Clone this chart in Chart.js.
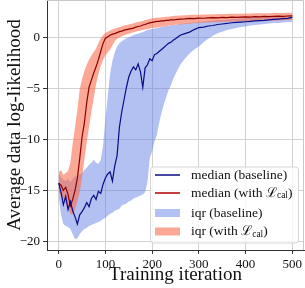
<!DOCTYPE html>
<html>
<head>
<meta charset="utf-8">
<script src="https://cdn.jsdelivr.net/npm/chart.js@4.4.0/dist/chart.umd.min.js"></script>
<style>
    body { margin: 0; background: #fff; }
    #wrap { width: 305px; height: 288px; }
</style>
</head>
<body>
<div id="wrap"><canvas id="chart" width="305" height="288"></canvas></div>
<script>
// training iterations (x)
var iterations = [
    0, 5, 10, 15, 20, 25, 30, 35, 40, 45, 50, 55, 60, 65, 70, 75, 80, 85, 90, 95, 100, 105, 110, 115, 120,
    125, 130, 135, 140, 145, 150, 155, 160, 165, 170, 175, 180, 185, 190, 195, 200, 205, 210, 215, 220, 225, 230, 235, 240, 245, 250,
    260, 270, 280, 290, 300, 310, 320, 330, 340, 350, 360, 370, 380, 390, 400, 410, 420, 430, 440, 450, 460, 470, 480, 490, 500
];

// baseline
var baselineMedian = [
    -14.3, -15.2, -16.4, -15.6, -16.9, -16.1, -17.0, -17.6, -18.3, -17.4, -17.1, -16.7, -16.2, -16.6, -15.8, -15.5, -15.9, -15.1, -15.3, -14.4, -13.8, -13.4, -13.2, -14.1, -12.6,
    -11.6, -8.8, -7.3, -6.1, -4.9, -3.9, -3.3, -2.9, -3.2, -2.6, -3.4, -4.9, -3.0, -2.7, -2.1, -2.3, -1.7, -1.6, -1.4, -1.2, -1.0, -0.8, -0.6, -0.5, -0.3, -0.15,
    0.2, 0.35, 0.5, 0.75, 0.95, 1.0, 1.1, 1.15, 1.25, 1.3, 1.35, 1.42, 1.45, 1.48, 1.52, 1.55, 1.6, 1.62, 1.65, 1.7, 1.75, 1.78, 1.82, 1.85, 1.95
];
var baselineLow = [
    -15.5, -17.4, -18.3, -18.5, -18.6, -18.8, -19.3, -19.8, -19.7, -19.3, -19.0, -18.8, -18.7, -18.5, -18.4, -18.3, -18.2, -18.1, -18.0, -17.8, -17.7, -17.5, -17.3, -17.2, -17.0,
    -16.9, -16.8, -16.5, -16.4, -16.3, -16.1, -16.0, -15.8, -15.7, -15.6, -15.5, -15.4, -15.2, -14.2, -11.8, -11.2, -10.2, -9.6, -8.4, -7.4, -6.6, -5.9, -5.2, -4.7, -4.1, -3.6,
    -2.7, -2.1, -1.6, -1.2, -0.9, -0.5, -0.15, 0.15, 0.4, 0.55, 0.7, 0.8, 0.9, 1.0, 1.05, 1.15, 1.2, 1.25, 1.3, 1.35, 1.4, 1.4, 1.45, 1.5, 1.5
];
var baselineHigh = [
    -13.4, -13.7, -14.0, -14.1, -13.9, -14.2, -13.9, -13.6, -13.7, -13.4, -13.3, -13.0, -12.8, -12.5, -12.3, -12.0, -12.3, -12.4, -12.0, -10.6, -8.0, -5.8, -3.6, -2.3, -1.5,
    -0.9, -0.6, -0.4, -0.25, -0.1, 0.0, 0.1, 0.2, 0.3, 0.35, 0.45, 0.5, 0.6, 0.7, 0.75, 0.8, 0.85, 0.9, 0.95, 1.0, 1.05, 1.1, 1.1, 1.15, 1.2, 1.2,
    1.3, 1.35, 1.4, 1.45, 1.5, 1.55, 1.6, 1.65, 1.7, 1.7, 1.75, 1.8, 1.8, 1.85, 1.85, 1.9, 1.9, 1.95, 1.95, 2.0, 2.0, 2.05, 2.05, 2.1, 2.1
];

// with L_cal
var calMedian = [
    -14.3, -14.5, -15.0, -14.7, -15.4, -16.5, -15.9, -15.0, -13.8, -11.9, -9.8, -8.4, -6.4, -4.9, -4.2, -3.5, -2.9, -2.2, -1.4, -0.6, -0.1, 0.05, 0.2, 0.3, 0.35,
    0.45, 0.55, 0.6, 0.7, 0.75, 0.8, 0.85, 0.9, 1.0, 1.05, 1.1, 1.2, 1.25, 1.35, 1.4, 1.45, 1.5, 1.55, 1.55, 1.6, 1.6, 1.65, 1.65, 1.7, 1.7, 1.72,
    1.78, 1.8, 1.84, 1.82, 1.88, 1.86, 1.9, 1.92, 1.9, 1.95, 1.93, 1.97, 1.95, 1.98, 2.0, 1.98, 2.02, 2.0, 2.04, 2.02, 2.05, 2.06, 2.05, 2.08, 2.09
];
var calLow = [
    -15.2, -15.5, -15.9, -16.3, -16.8, -17.3, -17.4, -16.9, -16.1, -15.2, -13.8, -12.0, -10.3, -8.8, -7.3, -6.0, -4.6, -3.6, -2.8, -2.2, -1.8, -1.5, -1.2, -0.8, -0.4,
    -0.15, 0.0, 0.1, 0.2, 0.28, 0.35, 0.42, 0.5, 0.55, 0.6, 0.65, 0.7, 0.75, 0.8, 0.85, 0.9, 0.93, 0.96, 1.0, 1.03, 1.06, 1.1, 1.13, 1.16, 1.2, 1.22,
    1.26, 1.3, 1.33, 1.36, 1.4, 1.42, 1.44, 1.46, 1.48, 1.5, 1.52, 1.53, 1.55, 1.56, 1.57, 1.58, 1.6, 1.61, 1.62, 1.63, 1.64, 1.65, 1.66, 1.68, 1.7
];
var calHigh = [
    -13.2, -13.0, -13.5, -13.3, -13.1, -12.3, -10.4, -8.8, -7.1, -5.1, -4.1, -3.3, -2.7, -2.2, -1.8, -1.45, -1.1, -0.6, -0.1, 0.2, 0.45, 0.55, 0.65, 0.75, 0.85,
    0.9, 1.0, 1.05, 1.15, 1.2, 1.25, 1.3, 1.37, 1.45, 1.5, 1.55, 1.6, 1.68, 1.75, 1.8, 1.85, 1.88, 1.9, 1.92, 1.95, 1.97, 2.0, 2.02, 2.05, 2.07, 2.1,
    2.12, 2.15, 2.17, 2.2, 2.2, 2.22, 2.24, 2.25, 2.26, 2.27, 2.28, 2.3, 2.3, 2.31, 2.32, 2.33, 2.34, 2.35, 2.35, 2.36, 2.37, 2.38, 2.38, 2.39, 2.4
];

var xTicks = [0, 100, 200, 300, 400, 500];
var yTicks = [-20, -15, -10, -5, 0];
var legendLabels = ["median (baseline)", "median (with \u2112_cal)", "iqr (baseline)", "iqr (with \u2112_cal)"];

var serif = "'Liberation Serif', 'DejaVu Serif', serif";
var blueLine = "#0b0b85";
var redLine = "#8b0000";
var blueBand = "rgba(95, 125, 225, 0.48)";
var redBand = "rgba(250, 110, 80, 0.6)";

function toPoints(values) {
    return values.map(function (v, i) {
        return { x: iterations[i], y: v };
    });
}

function minusSign(v) {
    return String(v).replace("-", "\u2212");
}

// text with "_sub" parts drawn as subscripts
function drawRichText(ctx, text, x, y, size) {
    var parts = text.split(/_(\w+)/);
    for (var i = 0; i < parts.length; i++) {
        var sub = i % 2 == 1;
        ctx.font = (sub ? size * 0.7 : size) + "px " + serif;
        ctx.fillText(parts[i], x, sub ? y + 3 : y);
        x += ctx.measureText(parts[i]).width;
    }
}

var frame = {
    id: "frame",
    beforeDatasetsDraw: function (chart) {
        var a = chart.chartArea;
        var ctx = chart.ctx;
        ctx.save();
        ctx.strokeStyle = "#c8c8c8";
        ctx.lineWidth = 1;
        ctx.beginPath();
        ctx.moveTo(a.left, a.top + 0.5);
        ctx.lineTo(a.right - 0.5, a.top + 0.5);
        ctx.lineTo(a.right - 0.5, a.bottom);
        ctx.stroke();
        ctx.restore();
    }
};

var legendBox = {
    id: "legendBox",
    afterDraw: function (chart) {
        var a = chart.chartArea;
        var ctx = chart.ctx;
        var left = a.right - 154;
        var top = a.bottom - 83.5;
        ctx.save();
        ctx.beginPath();
        ctx.roundRect(left + 0.5, top + 0.5, 148, 76, 3);
        ctx.fillStyle = "rgba(255,255,255,0.8)";
        ctx.fill();
        ctx.strokeStyle = "#d6d6d6";
        ctx.stroke();

        var rows = [top + 8.5, top + 26.5, top + 46.5, top + 65];
        ctx.lineWidth = 1.5;
        ctx.strokeStyle = blueLine;
        ctx.beginPath(); ctx.moveTo(left + 5, rows[0]); ctx.lineTo(left + 30, rows[0]); ctx.stroke();
        ctx.strokeStyle = "#b00000";
        ctx.beginPath(); ctx.moveTo(left + 5, rows[1]); ctx.lineTo(left + 30, rows[1]); ctx.stroke();
        ctx.fillStyle = blueBand;
        ctx.fillRect(left + 5, rows[2] - 4, 25, 8);
        ctx.fillStyle = redBand;
        ctx.fillRect(left + 5, rows[3] - 4, 25, 8);

        ctx.fillStyle = "#111";
        ctx.textBaseline = "middle";
        ctx.textAlign = "left";
        for (var i = 0; i < legendLabels.length; i++) {
            drawRichText(ctx, legendLabels[i], left + 41, rows[i], 13.5);
        }
        ctx.restore();
    }
};

function lineSet(values, color, order) {
    return {
        data: toPoints(values),
        borderColor: color,
        borderWidth: 1.2,
        pointRadius: 0,
        fill: false,
        order: order
    };
}

function bandSet(values, color, order) {
    return {
        data: toPoints(values),
        borderWidth: 0,
        pointRadius: 0,
        backgroundColor: color,
        fill: color ? "-1" : false,
        order: order
    };
}

new Chart(document.getElementById("chart"), {
    type: "line",
    data: {
        datasets: [
            bandSet(baselineLow, null, 6),
            bandSet(baselineHigh, blueBand, 5),
            bandSet(calLow, null, 4),
            bandSet(calHigh, redBand, 3),
            lineSet(calMedian, redLine, 2),
            lineSet(baselineMedian, blueLine, 1)
        ]
    },
    options: {
        responsive: false,
        animation: false,
        layout: { padding: { top: 0, right: 1, bottom: 0, left: 0 } },
        plugins: {
            legend: { display: false },
            tooltip: { enabled: false }
        },
        scales: {
            x: {
                type: "linear",
                min: -25,
                max: 525,
                afterBuildTicks: function (scale) {
                    scale.ticks = xTicks.map(function (v) { return { value: v }; });
                },
                afterFit: function (scale) {
                    scale.height = 38;
                    scale.paddingLeft = 0;
                    scale.paddingRight = 0;
                },
                ticks: { color: "#111", padding: 3, maxRotation: 0, font: { family: serif, size: 13 } },
                grid: { color: "#d2d2d2", tickColor: "#333", tickLength: 4 },
                border: { color: "#333", width: 1 },
                title: {
                    display: true,
                    text: "Training iteration",
                    color: "#111",
                    padding: { top: 0, bottom: 2 },
                    font: { family: serif, size: 19 }
                }
            },
            y: {
                min: -20.85,
                max: 3.65,
                afterBuildTicks: function (scale) {
                    scale.ticks = yTicks.map(function (v) { return { value: v }; });
                },
                afterFit: function (scale) {
                    scale.width = 47;
                    scale.paddingTop = 0;
                    scale.paddingBottom = 0;
                },
                ticks: { color: "#111", padding: 3, callback: minusSign, font: { family: serif, size: 13 } },
                grid: { color: "#d2d2d2", tickColor: "#333", tickLength: 4 },
                border: { color: "#333", width: 1 },
                title: {
                    display: true,
                    text: "Average data log-likelihood",
                    color: "#111",
                    padding: { top: 4, bottom: 0 },
                    font: { family: serif, size: 19 }
                }
            }
        }
    },
    plugins: [frame, legendBox]
});
</script>
</body>
</html>
